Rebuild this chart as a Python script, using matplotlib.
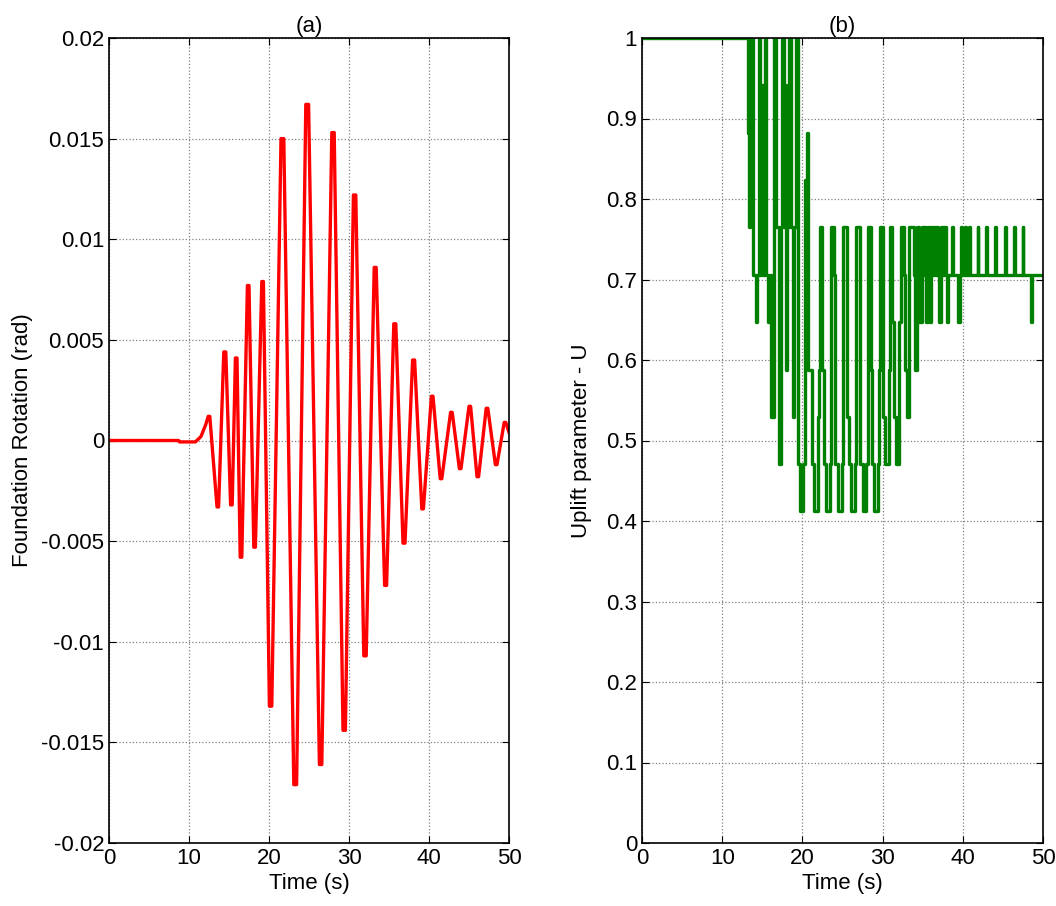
import matplotlib
matplotlib.use('Agg')
import matplotlib.pyplot as plt

plt.rcParams['font.family'] = ['Liberation Sans', 'DejaVu Sans']

# (a) foundation rotation: start/end of each flat top/bottom
rot_t = [0, 8.7, 8.8, 10.8, 11.5, 12.1, 12.4, 12.6,
         13.5, 13.7, 14.35, 14.6, 15.2, 15.4, 15.8, 16.0, 16.4, 16.6, 17.3, 17.5,
         18.1, 18.3, 19.1, 19.3, 20.05, 20.35, 21.5, 21.85, 23.1, 23.45, 24.6, 24.95,
         26.3, 26.6, 27.85, 28.15, 29.25, 29.55, 30.55, 30.85, 31.85, 32.15, 33.15, 33.4,
         34.45, 34.7, 35.6, 35.85, 36.75, 37.0, 37.95, 38.2, 39.1, 39.3, 40.3, 40.5,
         41.4, 41.6, 42.7, 42.9, 43.8, 44.0, 45.0, 45.2, 46.0, 46.2, 47.15, 47.35,
         48.3, 48.5, 49.4, 49.6, 50.0]
rot_v = [0, 0, -0.00007, -0.00007, 0.0002, 0.0008, 0.0012, 0.0012,
         -0.0033, -0.0033, 0.0044, 0.0044, -0.0032, -0.0032, 0.0041, 0.0041,
         -0.0058, -0.0058, 0.0077, 0.0077, -0.0053, -0.0053, 0.0079, 0.0079,
         -0.0132, -0.0132, 0.0150, 0.0150, -0.0171, -0.0171, 0.0167, 0.0167,
         -0.0161, -0.0161, 0.0153, 0.0153, -0.0144, -0.0144, 0.0122, 0.0122,
         -0.0107, -0.0107, 0.0086, 0.0086, -0.0072, -0.0072, 0.0058, 0.0058,
         -0.0051, -0.0051, 0.0040, 0.0040, -0.0034, -0.0034, 0.0022, 0.0022,
         -0.0019, -0.0019, 0.0014, 0.0014, -0.0014, -0.0014, 0.0017, 0.0017,
         -0.0018, -0.0018, 0.0016, 0.0016, -0.0012, -0.0012, 0.0009, 0.0009, 0.0004]

# (b) uplift parameter, change points (value held until next time)
upl_t = [0, 13.2, 13.35, 13.5, 13.9, 14.2, 14.4, 14.55, 14.75, 14.9, 15.1, 15.3, 15.5,
         15.75, 16.0, 16.1, 16.4, 16.5, 16.75, 17.1, 17.3, 17.45, 17.65, 17.8, 17.95,
         18.1, 18.3, 18.6, 18.8, 19.0, 19.2, 19.5, 19.75, 20.1, 20.3, 20.6, 20.75,
         21.2, 21.5, 21.95, 22.05, 22.15, 22.5, 22.65, 22.95, 23.4, 23.55, 23.9, 24.1,
         24.45, 24.9, 25.1, 25.5, 25.75, 26.05, 26.5, 26.7, 27.15, 27.55, 27.95, 28.15,
         28.5, 28.7, 28.95, 29.45, 29.6, 29.7, 30.1, 30.25, 30.8, 30.95, 31.2, 31.45,
         31.7, 32.05, 32.3, 32.7, 32.85, 33.0, 33.25, 33.95, 34.05, 34.3, 34.6, 34.95,
         35.1, 35.25, 35.4, 35.6, 35.75, 35.9, 36.05, 36.2, 36.3, 36.45, 36.55, 36.7,
         36.8, 36.95, 37.05, 37.25, 37.4, 37.5, 37.65, 37.75, 37.9, 38.0, 38.2, 38.7,
         38.8, 39.4, 39.6, 39.75, 39.85, 40.25, 40.35, 40.75, 40.85, 41.85, 41.95,
         42.95, 43.05, 44.05, 44.15, 45.25, 45.35, 46.35, 46.45, 47.45, 47.55, 48.55,
         48.65, 50.0]
upl_v = [1.0, 0.882, 0.765, 1.0, 0.706, 0.647, 0.706, 1.0, 0.706, 0.941, 0.706, 1.0,
         0.706, 0.647, 0.706, 0.529, 0.706, 1.0, 0.765, 0.471, 0.765, 1.0, 0.765, 0.941,
         0.588, 0.765, 1.0, 0.765, 0.529, 0.765, 1.0, 0.471, 0.412, 0.471, 0.824, 0.882,
         0.588, 0.471, 0.412, 0.529, 0.588, 0.765, 0.588, 0.471, 0.412, 0.471, 0.765,
         0.706, 0.471, 0.412, 0.471, 0.765, 0.529, 0.471, 0.412, 0.471, 0.765, 0.471,
         0.412, 0.471, 0.765, 0.588, 0.471, 0.412, 0.471, 0.588, 0.765, 0.529, 0.471,
         0.588, 0.765, 0.647, 0.529, 0.471, 0.647, 0.765, 0.706, 0.588, 0.529, 0.765,
         0.706, 0.588, 0.765, 0.647, 0.765, 0.706, 0.765, 0.647, 0.765, 0.706, 0.647,
         0.765, 0.706, 0.765, 0.706, 0.765, 0.706, 0.765, 0.706, 0.647, 0.765, 0.706,
         0.765, 0.706, 0.765, 0.706, 0.647, 0.706, 0.765, 0.706, 0.647, 0.706, 0.765,
         0.706, 0.765, 0.706, 0.765, 0.706, 0.765, 0.706, 0.765, 0.706, 0.765, 0.706,
         0.765, 0.706, 0.765, 0.706, 0.765, 0.706, 0.647, 0.706, 0.706]

xticks = [0, 10, 20, 30, 40, 50]
rot_ticks = [-0.02, -0.015, -0.01, -0.005, 0, 0.005, 0.01, 0.015, 0.02]
rot_labels = ['-0.02', '-0.015', '-0.01', '-0.005', '0', '0.005', '0.01', '0.015', '0.02']
upl_ticks = [0, 0.1, 0.2, 0.3, 0.4, 0.5, 0.6, 0.7, 0.8, 0.9, 1]
upl_labels = ['0', '0.1', '0.2', '0.3', '0.4', '0.5', '0.6', '0.7', '0.8', '0.9', '1']

fs = 16
fig = plt.figure(figsize=(10.56, 9.06), dpi=100)
ax1 = fig.add_axes([109/1056, 63/906, 400/1056, 805/906])
ax2 = fig.add_axes([642/1056, 63/906, 401/1056, 805/906])


def style(ax):
    ax.grid(True, linestyle=':', color='#808080', linewidth=0.9)
    ax.tick_params(direction='in', top=True, right=True, labelsize=fs, length=5)
    for s in ax.spines.values():
        s.set_linewidth(1.2)
    ax.set_xlim(0, 50)
    ax.set_xticks(xticks)
    ax.set_xlabel('Time (s)', fontsize=fs, labelpad=3)


ax1.plot(rot_t, rot_v, color='#ff0000', linewidth=2.4)
style(ax1)
ax1.set_ylim(-0.02, 0.02)
ax1.set_yticks(rot_ticks)
ax1.set_yticklabels(rot_labels)
ax1.set_ylabel('Foundation Rotation (rad)', fontsize=fs, labelpad=6)
ax1.set_title('(a)', fontsize=fs, pad=4)

ax2.plot(upl_t, upl_v, color='#008000', linewidth=2.4, drawstyle='steps-post')
style(ax2)
ax2.set_ylim(0, 1)
ax2.set_yticks(upl_ticks)
ax2.set_yticklabels(upl_labels)
ax2.set_ylabel('Uplift parameter - U', fontsize=fs, labelpad=10)
ax2.set_title('(b)', fontsize=fs, pad=4)

fig.savefig('out.png', dpi=100)
